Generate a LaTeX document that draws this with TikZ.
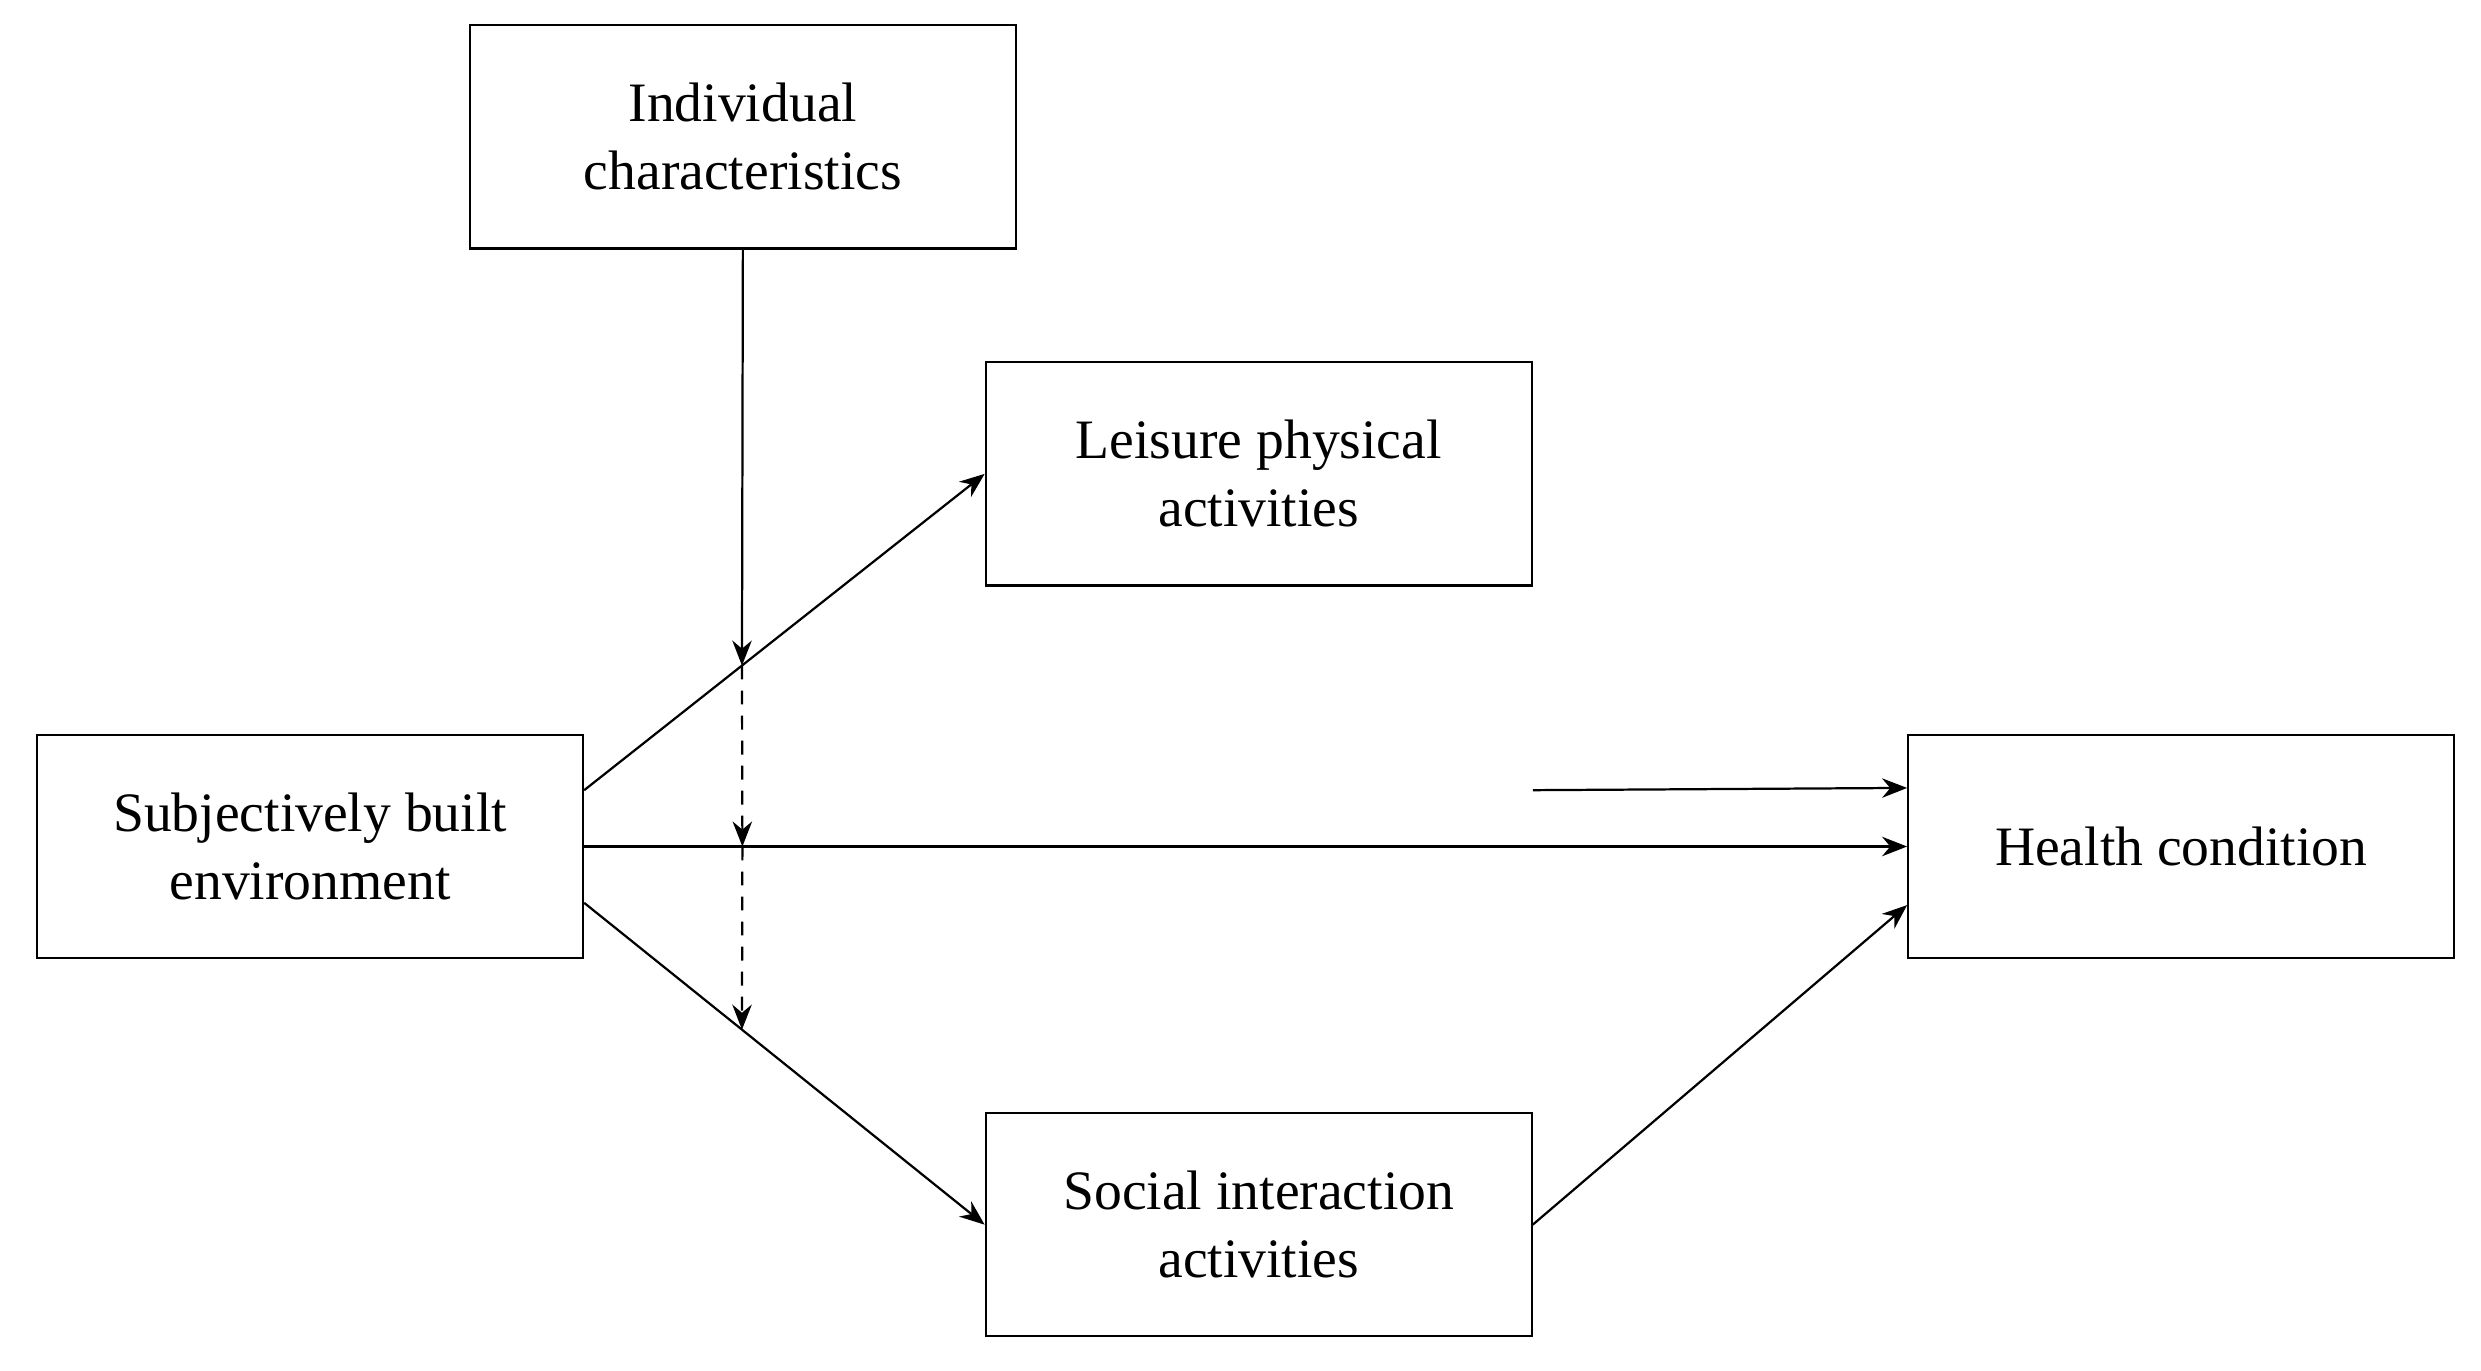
\documentclass[tikz,border=0pt]{standalone}
\usepackage{fontspec}
\setmainfont{Liberation Serif}
\usetikzlibrary{arrows.meta,calc}
\begin{document}
\begin{tikzpicture}[x=0.2mm,y=-0.2mm,
  box/.style={draw,line width=0.8pt,minimum width=69mm,minimum height=28.2mm,align=center,font=\fontsize{20}{24.5}\selectfont,inner sep=0pt},
  arr/.style={line width=0.8pt,-{Stealth[length=9pt,width=7pt]}},
  darr/.style={arr,dashed,dash pattern=on 5pt off 4pt}]
\useasboundingbox (0,0) rectangle (1568,866);
\node[box] (ind) at (469.5,86.5) {Individual\\characteristics};
\node[box] (lei) at (795.5,299.5) {Leisure physical\\activities};
\node[box] (sub) at (196,535) {Subjectively built\\environment};
\node[box] (hea) at (1378.5,535) {Health condition};
\node[box] (soc) at (795.5,774) {Social interaction\\activities};
\coordinate (s1) at ($(sub.north east)!0.25!(sub.south east)$);
\coordinate (s3) at ($(sub.north east)!0.75!(sub.south east)$);
\coordinate (h1) at ($(hea.north west)!0.24!(hea.south west)$);
\coordinate (h3) at ($(hea.north west)!0.76!(hea.south west)$);
\coordinate (m1) at ($(s1)!0.394!(lei.west)$);
\coordinate (m2) at ($(sub.east)!0.1196!(hea.west)$);
\coordinate (m3) at ($(s3)!0.394!(soc.west)$);
\draw[arr] (s1) -- (lei.west);
\draw[arr] (sub.east) -- (hea.west);
\draw[arr] (s3) -- (soc.west);
\draw[arr] (lei.east |- s1) -- (h1);
\draw[arr] (soc.east) -- (h3);
\draw[arr] (ind.south) -- (m1);
\draw[darr] (m1) -- (m2);
\draw[darr] (m2) -- (m3);
\end{tikzpicture}
\end{document}
